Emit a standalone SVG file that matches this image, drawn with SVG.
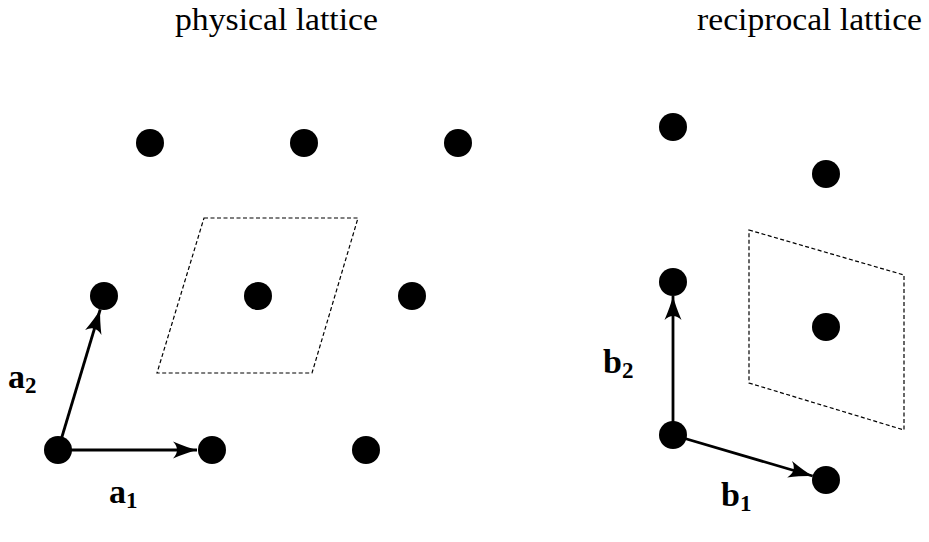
<svg xmlns="http://www.w3.org/2000/svg" width="929" height="542" viewBox="0 0 929 542">
<style>
.dot{fill:#000}
.vec{stroke:#000;stroke-width:2.8;fill:none}
.cell{stroke:#000;stroke-width:1.2;stroke-dasharray:4 2.5;fill:none}
.title{font-family:"Liberation Serif","DejaVu Serif",serif;font-size:32px;fill:#000}
.lbl{font-family:"Liberation Serif","DejaVu Serif",serif;font-weight:bold;font-size:34px;fill:#000}
.sub{font-size:23px}
</style>
<defs>
<marker id="ah" viewBox="-26 -10 28 20" refX="0" refY="0" markerWidth="28" markerHeight="20" markerUnits="userSpaceOnUse" orient="auto">
<path d="M0,0 Q-10,-2.5 -24,-8.5 Q-16,0 -24,8.5 Q-10,2.5 0,0 Z" fill="#000"/>
</marker>
</defs>
<rect width="929" height="542" fill="#fff"/>
<text class="title" x="175" y="30" textLength="203" lengthAdjust="spacingAndGlyphs">physical lattice</text>
<text class="title" x="697" y="30" textLength="225" lengthAdjust="spacingAndGlyphs">reciprocal lattice</text>
<g id="cells">
<polygon class="cell" points="204,218 358,218 312,373 157,373"/>
<polygon class="cell" points="749,230 904,275 904,430 749,383"/>
</g>
<g id="connectors">
<line class="vec" x1="58" y1="450" x2="197" y2="450" marker-end="url(#ah)"/>
<line class="vec" x1="58" y1="450" x2="100.2" y2="309.5" marker-end="url(#ah)"/>
<line class="vec" x1="673" y1="435" x2="673" y2="296" marker-end="url(#ah)"/>
<line class="vec" x1="673" y1="435" x2="812.6" y2="476" marker-end="url(#ah)"/>
</g>
<g id="p00"><circle class="dot" cx="58" cy="450" r="14"/></g>
<g id="p10"><circle class="dot" cx="212" cy="450" r="14"/></g>
<g id="p20"><circle class="dot" cx="366" cy="450" r="14"/></g>
<g id="p01"><circle class="dot" cx="104" cy="296" r="14"/></g>
<g id="p11"><circle class="dot" cx="258" cy="296" r="14"/></g>
<g id="p21"><circle class="dot" cx="412" cy="296" r="14"/></g>
<g id="p02"><circle class="dot" cx="150" cy="143" r="14"/></g>
<g id="p12"><circle class="dot" cx="304" cy="143" r="14"/></g>
<g id="p22"><circle class="dot" cx="458" cy="143" r="14"/></g>
<g id="r00"><circle class="dot" cx="673" cy="435" r="14"/></g>
<g id="r10"><circle class="dot" cx="826" cy="480" r="14"/></g>
<g id="r01"><circle class="dot" cx="673" cy="282" r="14"/></g>
<g id="r11"><circle class="dot" cx="826" cy="327" r="14"/></g>
<g id="r02"><circle class="dot" cx="673" cy="127" r="14"/></g>
<g id="r12"><circle class="dot" cx="826" cy="174" r="14"/></g>
<g id="labels">
<text class="lbl" x="8" y="388">a<tspan class="sub" dy="5">2</tspan></text>
<text class="lbl" x="109" y="503">a<tspan class="sub" dy="5">1</tspan></text>
<text class="lbl" x="603" y="373">b<tspan class="sub" dy="5">2</tspan></text>
<text class="lbl" x="721" y="506">b<tspan class="sub" dy="5">1</tspan></text>
</g>
</svg>
